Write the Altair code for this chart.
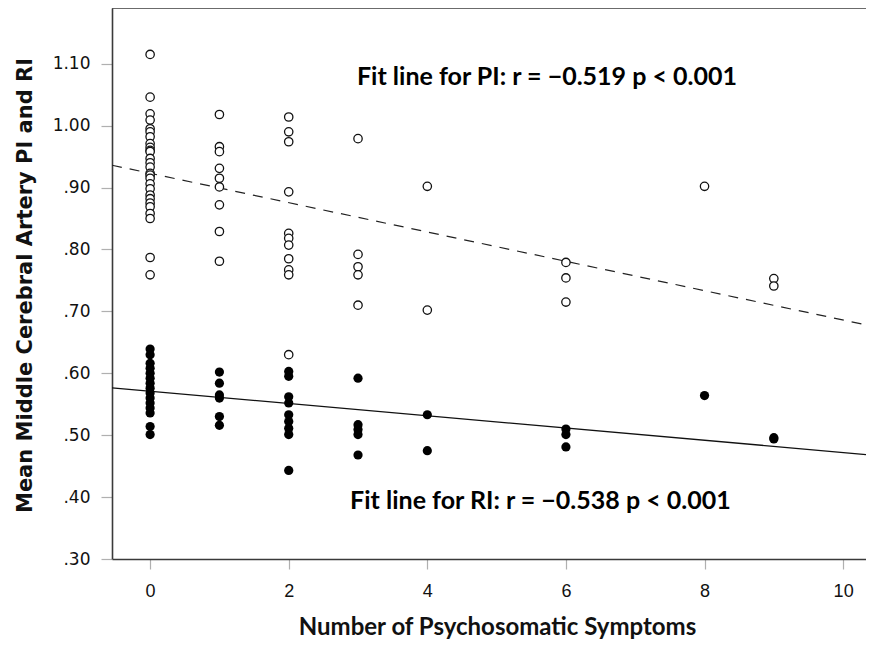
import altair as alt
import pandas as pd

# ---- data ----
pi_x0 = [1.115, 1.046, 1.019, 1.009, 0.995, 0.990, 0.982, 0.971, 0.965, 0.960, 0.958, 0.947,
         0.940, 0.933, 0.923, 0.920, 0.915, 0.906, 0.898, 0.888, 0.882, 0.875, 0.869, 0.858,
         0.850, 0.787, 0.759]
pi_x1 = [1.018, 0.966, 0.958, 0.931, 0.915, 0.901, 0.872, 0.829, 0.781]
pi_x2 = [1.014, 0.990, 0.974, 0.893, 0.826, 0.818, 0.807, 0.785, 0.767, 0.759, 0.630]
pi_x3 = [0.979, 0.792, 0.772, 0.759, 0.710]
pi_x4 = [0.902, 0.702]
pi_x6 = [0.779, 0.754, 0.715]
pi_x8 = [0.902]
pi_x9 = [0.753, 0.741]

ri_x0 = [0.639, 0.630, 0.616, 0.608, 0.600, 0.592, 0.584, 0.576, 0.568, 0.560, 0.552,
         0.544, 0.536, 0.514, 0.501]
ri_x1 = [0.602, 0.584, 0.565, 0.560, 0.530, 0.516]
ri_x2 = [0.603, 0.595, 0.562, 0.552, 0.533, 0.522, 0.511, 0.501, 0.443]
ri_x3 = [0.592, 0.517, 0.509, 0.501, 0.468]
ri_x4 = [0.533, 0.475]
ri_x6 = [0.510, 0.501, 0.481]
ri_x8 = [0.564]
ri_x9 = [0.496, 0.494]

# fit lines (intercept, slope)
pi_fit = (0.923, -0.0237)
ri_fit = (0.571, -0.0099)

x_domain = [-0.55, 10.33]
y_domain = [0.30, 1.19]
y_ticks = [0.3, 0.4, 0.5, 0.6, 0.7, 0.8, 0.9, 1.0, 1.1]
x_ticks = [0, 2, 4, 6, 8, 10]

annot_text = ["Fit line for PI: r = \u22120.519 p < 0.001",
              "Fit line for RI: r = \u22120.538 p < 0.001"]
annot_x = [2.985, 2.886]
annot_y = [1.0785, 0.3937]

# ---- build tables ----
pi_groups = {0: pi_x0, 1: pi_x1, 2: pi_x2, 3: pi_x3, 4: pi_x4, 6: pi_x6, 8: pi_x8, 9: pi_x9}
ri_groups = {0: ri_x0, 1: ri_x1, 2: ri_x2, 3: ri_x3, 4: ri_x4, 6: ri_x6, 8: ri_x8, 9: ri_x9}

pi_df = pd.DataFrame([{"x": k, "y": v} for k, vs in pi_groups.items() for v in vs])
ri_df = pd.DataFrame([{"x": k, "y": v} for k, vs in ri_groups.items() for v in vs])

fit_rows = []
for name, (b0, b1) in [("PI", pi_fit), ("RI", ri_fit)]:
    for xv in x_domain:
        fit_rows.append({"series": name, "x": xv, "y": b0 + b1 * xv})
fit_df = pd.DataFrame(fit_rows)
annot_df = pd.DataFrame({"text": annot_text, "x": annot_x, "y": annot_y})

W, H = 754, 551

xscale = alt.Scale(domain=x_domain, nice=False, zero=False)
yscale = alt.Scale(domain=y_domain, nice=False, zero=False)

x_enc = alt.X("x:Q", scale=xscale,
              axis=alt.Axis(values=x_ticks, format="d", title="Number of Psychosomatic Symptoms",
                            grid=False, domainColor="#3a3a3a", domainWidth=1.6,
                            tickColor="#b0b0b0", tickSize=10, tickWidth=1.2,
                            labelFont="Liberation Sans", labelFontSize=18,
                            labelColor="#111", labelPadding=13,
                            titleFont="Lato", titleFontSize=24,
                            titleFontWeight="bold", titleColor="#111",
                            titleX=385, titleY=68, titleAlign="center", titleBaseline="middle",
                            titleAnchor="start"))
y_enc = alt.Y("y:Q", scale=yscale,
              axis=alt.Axis(values=y_ticks, title="Mean Middle Cerebral Artery PI and RI",
                            labelExpr="datum.value >= 1 ? format(datum.value, '.2f') : replace(format(datum.value, '.2f'), '0.', '.')",
                            grid=False, domainColor="#3a3a3a", domainWidth=1.6,
                            tickColor="#b0b0b0", tickSize=11, tickWidth=1.2,
                            labelFont="DejaVu Sans", labelFontSize=17, labelColor="#111",
                            labelPadding=11,
                            titleFont="DejaVu Sans", titleFontSize=21, titleFontWeight="bold",
                            titleColor="#111", titleX=-87, titleY=277, titleAngle=-90,
                            titleAlign="center", titleBaseline="middle", titleAnchor="start"))

pi_pts = alt.Chart(pi_df).mark_point(shape="circle", filled=False, fill="white",
                                     stroke="#111", strokeWidth=1.3, size=70, opacity=1).encode(
    x=x_enc, y=y_enc)
ri_pts = alt.Chart(ri_df).mark_point(shape="circle", filled=True, color="#000",
                                     size=85, opacity=1).encode(x="x:Q", y="y:Q")

pi_line = alt.Chart(fit_df[fit_df.series == "PI"]).mark_line(
    color="#222", strokeWidth=1.2, strokeDash=[10, 8], clip=True).encode(x="x:Q", y="y:Q")
ri_line = alt.Chart(fit_df[fit_df.series == "RI"]).mark_line(
    color="#111", strokeWidth=1.3, clip=True).encode(x="x:Q", y="y:Q")

annots = alt.Chart(annot_df).mark_text(
    font="Lato", fontWeight="bold", fontSize=25, align="left", baseline="middle",
    color="#000").encode(x="x:Q", y="y:Q", text="text:N")

top_border = alt.Chart(pd.DataFrame({"a": [0]})).mark_rule(
    color="#3a3a3a", strokeWidth=1.6).encode(
    x=alt.value(0), x2=alt.value(W), y=alt.value(0))

chart = alt.layer(pi_line, ri_line, pi_pts, ri_pts, annots, top_border).properties(
    width=W, height=H,
    autosize=alt.AutoSizeParams(type="none"),
    padding={"left": 104, "top": 0, "right": 0, "bottom": 80},
    background="white",
).configure_view(stroke=None)

chart.save("out.html", embed_options={"renderer": "svg", "actions": False})
